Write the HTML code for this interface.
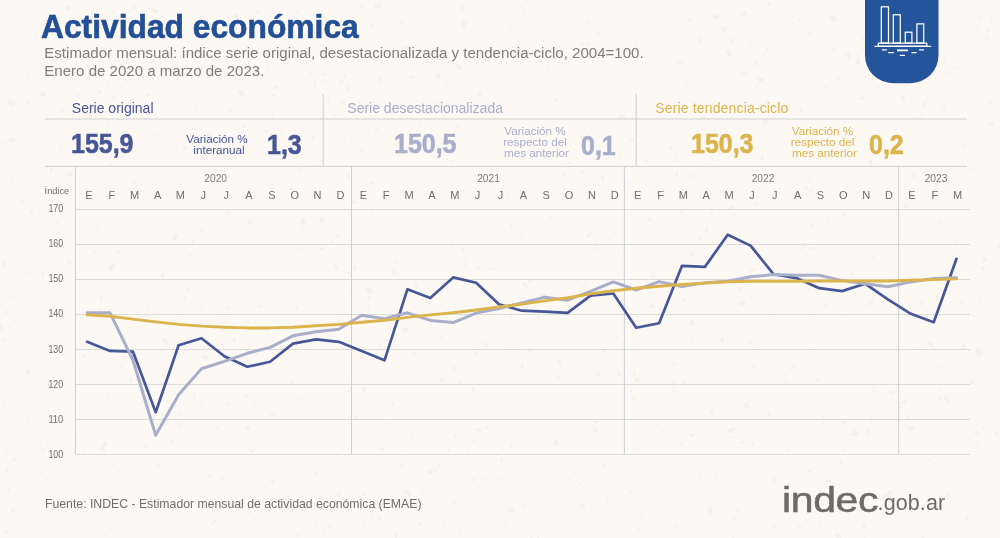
<!DOCTYPE html>
<html lang="es"><head><meta charset="utf-8"><title>Actividad económica</title>
<style>
html,body{margin:0;padding:0}
body{width:1000px;height:538px;overflow:hidden;background:#fcf9f4;font-family:"Liberation Sans",sans-serif;position:relative}
.abs{position:absolute;white-space:nowrap}
h1{position:absolute;left:41.2px;top:8.9px;margin:0;font-size:32.6px;line-height:36px;font-weight:bold;color:#234f97;white-space:nowrap;transform-origin:0 0;transform:scaleX(.975);-webkit-text-stroke:.6px #234f97}
.sub{left:44.3px;top:44.2px;font-size:15.05px;line-height:17.5px;color:#7e7e7b;transform-origin:0 0}
.lbl{font-size:14px;line-height:16px;transform-origin:0 50%}
.big{font-size:27px;line-height:28px;font-weight:bold;transform-origin:0 50%;transform:scaleX(.925);-webkit-text-stroke:.55px currentColor}
.var{width:80px;font-size:11.7px;line-height:11px;text-align:center;transform-origin:50% 50%}
.c1{color:#465696} .c2{color:#a9aeca} .c3{color:#dcb44c}
.src{left:45px;top:496.5px;font-size:12.25px;line-height:14px;color:#706f6c}
.logo{left:781.8px;top:479.9px;color:#6b6b68;line-height:40px;font-size:34.6px;letter-spacing:-.3px;-webkit-text-stroke:.5px #6b6b68;transform-origin:0 50%;transform:scaleX(1.185)}
.gob{left:877.6px;top:482.6px;color:#6b6b68;line-height:40px;font-size:21.5px;letter-spacing:.1px}
svg{position:absolute;left:0;top:0}
svg text{font-family:"Liberation Sans",sans-serif}
</style></head><body>
<svg width="1000" height="538" viewBox="0 0 1000 538">
 <filter id="bl" x="0" y="0" width="100%" height="100%"><feGaussianBlur stdDeviation=".55"/></filter><g fill="none" stroke="#8a7a5a" stroke-linecap="round" opacity=".052" filter="url(#bl)"><path stroke-width="1.6" d="M324 81l1.7 0.4M536 197l-0.0 0.3M37 233l0.3 0.1M425 445l0.4 0.3M627 510l0.5 1.4M976 25l1.3 1.7M144 63l-0.8 0.5M181 313l0.7 1.5M548 34l0.3 0.2M680 230l-0.2 0.9M453 161l-1.2 1.6M244 309l-1.3 0.5M729 155l2.3 0.9M418 407l0.0 0.5M39 360l-0.4 1.9M875 169l-0.5 1.7M580 245l-2.1 0.4M474 357l-0.2 0.3M647 534l1.3 1.6M386 360l0.0 0.3M168 63l-0.3 0.2M129 133l-1.0 0.4M81 242l-1.4 0.5M819 465l0.2 0.8M359 476l2.1 1.1M176 125l0.0 0.7M589 141l0.1 0.2M369 305l-1.3 2.0M515 332l1.7 0.3M900 420l-1.8 1.3M392 215l-0.2 0.4M62 36l0.6 0.3M340 28l0.2 0.1M101 196l-0.2 0.1M614 80l0.4 0.7M364 66l-2.2 0.0M466 260l0.4 0.1M343 142l1.8 1.0M23 512l1.3 0.6M543 15l-1.4 0.1M863 375l0.3 0.7M167 415l-1.1 0.9M330 120l-2.1 0.1M853 434l-1.4 1.5M227 278l1.0 0.1M28 150l-0.5 0.7M957 241l-2.4 0.1M955 196l0.5 0.5M197 110l-1.6 0.5M840 258l-1.4 1.0M85 355l-1.8 1.4M750 257l-0.5 0.4M333 431l0.8 2.3M401 509l1.6 1.0M127 81l-1.9 1.3M146 445l-1.2 2.2M350 295l0.5 0.0M971 350l-1.4 0.3M434 469l1.7 1.3M252 158l-0.2 0.7M259 225l-0.5 0.1M354 246l-1.5 0.5M421 494l-0.1 1.3M524 10l1.0 0.7M4 430l0.0 0.6M725 299l-0.1 0.9M555 422l-0.1 0.4M248 149l-0.0 2.0M562 409l0.4 2.3M613 272l-0.8 1.1M452 287l-1.3 0.2M699 472l1.6 1.7M560 507l1.9 0.9M122 238l0.3 0.3M73 360l-1.9 0.6M154 385l1.5 0.7M883 521l-0.7 0.1M398 262l-2.1 1.2M161 232l0.7 1.2M196 171l1.9 0.1M554 237l0.1 0.2M624 276l-0.3 0.0M788 523l0.3 0.3M40 419l0.8 0.3M422 490l1.4 1.5M149 495l-0.9 1.2M89 31l0.4 1.7M72 505l-1.3 1.0M84 461l-0.3 0.1M454 182l-1.4 0.3M268 70l1.0 1.0M109 87l0.3 0.2M312 164l1.2 1.5M500 96l1.0 0.1M250 8l-0.3 1.9M189 255l2.2 0.8M819 233l-1.2 0.7M393 273l-1.8 0.1M343 448l-0.8 1.7M405 187l0.3 0.1M71 399l0.7 0.4M84 453l-1.1 1.9M282 130l0.1 0.9M158 240l-0.8 0.1M973 294l-0.8 0.1M310 192l0.1 0.2M475 270l-0.0 0.7M5 142l0.1 0.4M42 12l0.7 0.6M586 285l-0.9 1.7M716 473l0.6 0.9M985 80l-0.8 1.7M44 449l-0.9 2.1M734 437l-0.0 0.5M504 449l-1.8 1.1M584 480l-1.0 1.5M230 17l0.2 0.5M105 450l-0.6 1.4M626 366l1.3 0.0M798 403l-0.1 1.3M659 36l1.3 1.3M74 143l1.5 1.1M740 525l0.5 1.2M479 368l-0.7 1.8M643 42l0.4 0.4M743 164l1.5 0.1M61 145l-1.0 1.4M676 156l0.2 1.4M466 64l1.8 1.3M978 504l0.0 0.2M820 521l0.8 0.9M210 509l-0.2 0.7M142 282l2.2 1.0M820 274l-1.3 1.8M231 483l1.3 0.1M4 265l0.7 1.0M141 185l-0.8 0.4M2 404l2.0 0.8M926 384l1.4 1.8M372 211l-0.7 2.4M361 230l0.8 0.1M102 449l-0.8 0.2M249 143l1.1 0.8M373 514l-1.9 1.2M631 491l-0.4 2.3M720 27l0.3 1.9M753 347l0.8 0.1M927 68l0.6 1.1M298 398l1.7 1.8M656 162l0.5 1.4M167 87l-0.6 0.2M497 118l-2.3 0.0M450 75l0.6 0.2M342 49l0.5 0.5M570 477l0.5 1.9M414 282l0.5 0.9M62 149l2.2 0.9M503 339l1.7 1.4M271 134l0.2 1.1M954 457l2.2 0.2M32 382l0.2 2.3M587 0l-1.1 0.3M826 460l1.7 1.7M109 83l-0.8 1.2M941 388l-1.2 1.1M457 297l-0.2 0.2M233 495l1.0 1.4M128 135l-1.0 1.4M112 38l-0.4 1.4M388 120l1.6 0.1M302 248l-1.1 2.2M884 256l0.5 0.5M961 379l0.9 0.1M498 363l0.8 0.8M667 498l0.7 0.1M338 226l1.4 1.0M797 398l1.1 0.8M970 168l1.6 1.4M221 409l-0.9 0.1M496 101l0.2 0.7M665 510l0.2 0.5M213 524l0.5 0.1M60 212l-2.1 0.8M733 537l1.2 2.0M186 504l1.9 0.2M664 204l0.5 0.9M169 2l0.4 0.8M956 67l1.9 1.5M357 442l0.4 2.0M49 255l-1.0 0.3M193 196l2.3 0.2M411 437l1.9 0.3M35 34l1.6 1.7M747 483l0.6 0.7M958 332l-0.5 0.6M316 148l-0.2 0.1M916 341l2.4 0.2M234 256l-2.4 0.3M387 135l0.0 1.2M928 98l-1.4 1.5M823 416l0.8 1.4M320 195l1.9 0.5M197 405l0.8 0.2M34 297l-0.9 0.1M883 531l0.8 0.2M96 268l0.3 1.8M234 224l-0.8 1.4M748 456l1.6 0.6M841 158l0.6 1.4M738 107l0.6 0.5M153 476l0.8 1.3M396 534l1.0 0.9M808 351l2.4 0.8M475 441l-2.1 0.6M40 158l0.4 0.3M973 314l0.9 2.2M866 242l-0.6 0.5M946 57l-0.6 1.5M218 198l0.4 0.3M255 322l1.4 1.0M11 176l1.5 1.0M312 109l-0.3 2.0M63 55l-0.2 1.1M639 49l-0.3 0.5M410 152l-0.9 0.1M312 305l0.3 1.0M864 536l0.8 0.6M728 110l-0.2 0.1M424 441l-1.1 0.4M461 87l-0.0 0.2M641 489l-0.2 0.4M371 271l0.3 0.4M521 498l0.0 0.5M805 520l0.6 0.3M943 525l1.3 0.2M926 209l-0.8 2.1M825 86l1.5 1.3M404 455l1.8 1.1M218 215l0.5 1.3M123 133l-1.8 0.6M41 303l1.9 0.2M838 63l-0.2 1.6M627 165l-0.3 1.1M426 354l0.2 1.2M23 333l1.0 0.9M764 420l1.1 0.7M473 58l0.1 0.5M92 238l1.4 0.2M636 44l-1.4 1.2M511 29l0.5 1.3M951 73l-2.2 0.0M732 438l-0.6 0.0M492 515l2.0 1.1M788 501l0.2 0.3M756 85l1.5 1.7M816 77l-1.3 0.3M208 141l0.7 1.1M37 98l-0.6 0.1M680 482l-0.5 0.4M115 286l0.7 1.5M873 299l-1.4 0.6M105 534l0.5 1.6M798 142l-0.6 2.4M360 411l1.0 0.6M744 26l1.5 1.5M639 529l-0.8 1.3M313 1l0.2 0.1M616 233l-1.3 0.4M132 122l1.7 0.1M3 191l0.2 0.4M224 314l1.2 0.9M624 255l-0.5 0.1M244 80l-0.2 0.4M871 421l0.8 0.8M11 347l0.7 1.3M646 239l-1.6 1.7M248 486l-0.0 0.3M406 128l-0.3 0.2M12 296l2.1 1.0M200 327l-0.6 1.2M813 94l0.5 0.7M48 478l-1.3 1.6M6 454l0.2 1.9M742 243l0.7 0.2M232 21l-0.7 0.7M695 455l1.2 1.4M554 235l-0.1 2.0M265 345l1.9 1.5M880 8l0.6 0.5M744 508l1.0 1.6M880 177l-0.7 0.2M631 373l-1.7 0.1M469 452l-1.6 0.8M437 390l0.9 1.2M212 335l-0.4 0.1M145 14l-0.4 0.1M345 76l0.3 0.0M693 341l-1.2 1.3M66 318l-0.9 0.6M820 480l-0.3 0.1M914 508l0.4 0.3M112 19l-1.8 1.2M634 444l1.0 1.3M100 53l1.6 1.2M319 228l0.2 0.2M283 385l0.6 0.9M964 271l-0.8 2.0M31 222l-0.9 0.8M347 379l1.1 0.9M862 49l1.8 1.1M1 109l-1.9 0.1M4 264l-1.1 0.8M185 266l-0.9 0.5M261 508l0.7 0.5M699 268l-0.2 0.4M81 424l-1.4 1.1M628 191l0.4 1.1M890 46l2.2 0.2M206 142l-0.0 2.3M379 476l0.1 0.7M532 406l-0.9 1.7M348 176l-0.5 0.3M662 399l0.1 0.6M773 312l0.1 0.5M885 128l0.4 0.5M703 454l0.5 0.3M248 176l1.2 0.7M328 102l-1.6 1.8M102 518l0.2 0.4M984 428l0.4 1.8M196 343l0.4 0.3M388 18l-0.9 0.7M693 269l0.2 1.6M142 325l-0.8 0.8M908 231l-1.1 1.1M421 123l-1.7 0.7M774 377l-1.2 1.8M642 244l-0.4 0.8M98 226l-1.2 1.6M630 135l0.2 1.2M622 220l-1.7 0.4M183 352l0.7 1.9M490 524l-0.0 0.3M161 421l-0.1 2.4M101 309l-0.9 1.1M512 344l-0.1 2.1M410 510l-0.4 0.6M392 410l-0.5 0.0M355 30l0.3 0.8M13 225l-0.7 0.9M352 143l-0.5 0.5M940 284l-0.6 0.4M392 114l-0.4 0.3M810 341l-0.2 1.3M226 519l-0.4 0.9M819 439l0.8 1.0M548 67l0.9 1.9M851 144l0.7 0.8M426 100l-0.1 0.2M281 132l0.1 0.9M428 343l0.7 1.6M929 460l-0.3 0.2M906 422l-0.5 0.3M633 8l-0.2 0.0M656 135l0.4 0.2M234 418l0.9 0.5M904 426l-0.6 0.2M608 420l-1.6 0.6M788 451l-0.4 0.5M531 399l-1.1 0.4M555 142l0.7 0.3M493 31l1.1 0.6M491 268l-1.3 0.6M7 452l-0.2 1.3M665 452l0.3 1.0M961 41l-0.7 1.5M29 328l-1.7 0.4M330 528l0.1 1.4M898 18l-0.7 1.7M339 464l0.1 1.0M526 415l0.1 0.7M422 298l1.3 1.7M828 217l0.9 1.0M506 525l-1.4 1.0M331 171l-0.2 0.9M635 422l-0.2 0.2M886 293l0.2 0.3M6 102l-0.8 2.2M658 424l-0.8 2.2M617 337l-0.5 1.7M681 114l0.2 1.7M763 55l0.6 0.1M775 492l0.7 1.6M823 423l1.0 1.1M302 227l0.2 0.9M642 502l-0.1 0.3M39 64l-0.5 2.0M919 240l0.1 0.2M592 504l0.2 2.4M412 55l1.3 1.0M152 8l-0.1 0.2M122 520l-0.4 0.2M129 10l1.3 1.3M734 101l-0.2 0.2M714 460l1.8 0.5M629 382l-1.2 0.3M254 519l1.8 0.1M15 350l2.0 0.5M311 392l-0.5 0.2M486 32l-0.2 1.0M439 364l-0.4 0.3M363 347l0.4 1.6M386 423l-1.9 1.5M567 157l-0.3 0.0M703 445l-0.3 0.9M977 447l0.9 1.3M429 478l-0.6 0.9M602 482l1.3 1.6M2 142l-0.3 1.1M816 477l-0.3 0.1M812 467l1.0 1.1M851 434l-1.7 0.5M347 46l-1.2 0.9M200 404l1.7 1.6M607 365l1.0 0.8M255 404l0.3 2.0M88 434l1.5 1.3M580 483l-0.2 2.2M477 317l0.5 0.4M181 377l-0.2 1.0M402 278l0.5 0.1M997 201l-0.2 0.4M787 84l0.7 1.4M519 11l-0.3 0.0M866 262l1.0 1.1M779 229l-1.8 1.6M819 518l0.8 0.1M201 97l0.4 0.1M557 468l-1.2 0.2M910 35l0.5 1.5M120 516l-0.2 0.8M641 515l0.6 1.6M448 86l-2.4 0.1M222 21l0.4 0.7M903 487l2.1 0.3M786 382l-1.7 0.1M56 78l-1.9 0.4M677 161l-1.1 1.1M105 174l0.7 0.3M481 91l0.7 0.3M678 7l1.5 1.1M36 499l-0.7 0.1M867 478l0.1 0.5M97 500l-0.8 2.0M452 183l0.1 2.1M628 77l0.7 0.1M714 298l-0.5 0.2M266 222l0.4 0.4M840 180l0.0 0.6M318 486l-0.5 0.0M57 482l1.4 1.1M477 154l0.6 0.5M364 533l-2.4 0.6M98 156l2.2 0.4M726 158l2.4 0.1M807 183l0.5 0.0M832 283l0.1 0.6M912 117l1.4 0.6M180 414l1.5 1.1M79 47l0.0 1.6M274 111l-1.0 1.3M812 314l0.7 0.1M733 220l1.8 0.3M811 180l-1.9 0.9M493 8l0.2 2.3M872 143l-0.5 0.3M367 88l-0.3 1.0M5 280l-0.1 1.2M121 384l-1.9 0.9M321 383l-0.8 0.8M61 470l0.0 2.4M513 285l1.4 0.1M967 120l0.6 0.2M250 440l0.3 0.1M699 105l-0.1 0.2M576 281l1.7 0.6M870 386l0.3 0.1M494 269l0.8 0.3M406 74l-1.4 0.7M147 308l1.7 0.9M826 504l0.3 1.1M840 283l-1.1 0.2M777 182l0.4 0.7M436 528l-2.0 0.6M815 456l-0.0 0.3M958 503l0.2 0.8M633 196l1.4 0.3M433 272l0.2 0.1M970 418l-1.0 2.2M809 476l2.2 0.2M642 143l1.1 1.3M542 497l1.1 1.2M520 233l1.5 1.9M305 348l-0.1 0.5M956 276l0.1 0.8M534 80l0.4 0.2M294 219l0.6 0.6M88 294l-0.7 2.0M570 350l-0.4 0.5M461 295l0.2 1.6M311 130l-0.0 0.7M383 315l0.1 0.2M862 128l0.0 1.5M285 531l-0.7 0.6M159 36l0.4 2.2M62 209l-0.8 0.9M109 121l-1.6 1.8M155 181l-0.5 0.9M616 457l-0.1 2.1M739 400l0.2 1.9M785 381l2.1 0.9M871 2l-0.5 1.9M498 518l0.4 1.5M784 470l0.6 1.5M452 246l1.1 1.5M391 299l0.6 0.9M787 457l0.2 1.3M184 164l-0.1 0.5M582 47l1.2 2.0M843 451l1.9 1.4M426 490l0.2 0.0M565 268l-1.8 1.5M538 537l-0.1 1.4M685 210l-0.3 1.0M351 510l-0.1 1.8M99 201l-0.2 1.1M574 473l0.1 2.4M440 336l1.2 2.2M530 439l0.3 0.5M978 444l1.3 0.5M895 371l-2.1 0.1M888 226l0.3 0.4M512 272l0.5 0.3M630 324l-1.0 0.0M637 23l-0.9 0.7M307 372l0.1 0.2M842 315l1.4 1.0M498 298l-0.4 0.7M531 536l0.4 1.5M122 84l1.8 0.6M100 92l-1.2 0.7M613 434l0.3 0.0M771 174l0.8 1.7M169 143l-0.4 0.1M582 188l0.4 1.2M55 479l-1.5 0.2M440 334l0.8 0.1M931 460l-0.9 0.3M816 163l-1.6 0.2M496 511l0.3 0.7M718 119l-0.8 0.3M484 427l0.6 0.4M358 100l1.5 1.9M562 62l0.5 1.3M403 35l-0.4 0.3M351 132l0.4 0.5M237 19l0.8 1.5M156 380l0.3 0.3M835 69l-1.1 0.6M805 86l-0.7 0.8M377 516l-0.7 0.1M505 122l1.1 0.5M706 140l-0.6 2.2M368 132l1.3 1.0M872 66l-0.2 1.4M270 415l-0.5 1.0M568 167l1.1 0.3M177 458l-0.5 0.8M109 302l-0.0 1.0M297 35l0.7 0.6M126 386l0.3 0.8M909 417l-2.0 0.9M132 149l-0.1 0.2M664 189l-0.6 1.0M699 134l1.0 1.9M629 98l-0.4 0.1M734 383l0.3 0.0M162 107l0.3 0.8M39 167l1.4 0.9M839 307l1.3 1.3M435 368l1.0 0.0M834 418l0.9 0.1M854 327l0.2 0.2M111 426l-0.7 0.2M750 46l0.6 1.7M748 446l0.8 0.2M946 228l-1.3 1.9M739 447l0.2 1.6M54 376l-0.0 1.2M928 69l1.9 0.3M703 433l-0.1 0.8M969 343l1.0 1.0M59 193l0.9 0.7M311 73l-0.9 1.6M238 130l0.2 1.4M936 189l-0.8 0.3M142 303l-0.8 0.5M548 409l-0.3 0.5M599 248l-1.7 1.0M114 156l0.8 0.6M60 151l-0.4 0.5M448 61l0.1 0.9M363 90l0.4 0.0M992 404l-0.2 0.3M980 303l0.0 0.4M434 102l1.4 0.0M920 347l-1.6 0.3M653 135l0.7 0.3M28 417l1.3 1.7M186 343l-2.1 0.5"/><path stroke-width="2.6" d="M168 422l-2.0 2.1M327 99l1.6 2.5M369 297l-1.2 0.7M239 22l-0.8 1.9M820 380l-3.1 0.5M494 269l0.4 0.6M581 43l2.2 1.2M443 522l0.5 0.1M440 103l2.6 0.0M841 460l0.6 2.7M283 356l0.5 1.8M339 236l-2.0 1.2M904 88l0.2 1.2M563 187l0.8 0.2M324 248l-3.3 1.0M865 524l-1.2 3.1M811 32l-0.8 2.3M297 307l0.2 3.3M647 161l-1.2 0.5M28 102l0.4 2.4M85 355l-0.4 1.4M416 285l0.7 2.0M114 97l-0.5 3.1M112 464l1.0 0.3M531 135l-0.3 1.8M227 308l-0.0 0.6M588 43l1.5 0.4M440 465l-1.3 1.6M757 62l-2.2 2.7M102 447l1.3 0.8M960 303l2.5 1.1M776 31l0.4 0.9M15 320l0.5 0.7M707 229l-1.2 2.9M872 303l-3.0 1.3M168 401l-1.0 0.9M681 444l0.2 0.6M737 510l2.6 0.4M604 54l-1.6 1.2M113 498l1.7 1.7M193 240l-0.7 2.9M114 11l-0.5 0.3M185 298l-0.6 1.0M381 78l-0.4 3.1M690 435l3.3 0.1M342 81l-1.7 0.7M800 19l-0.7 0.4M680 211l1.6 0.8M845 212l-1.1 2.9M76 177l-0.9 0.3M589 23l0.3 0.7M468 310l0.7 1.3M6 312l1.3 0.1M459 531l0.3 0.2M671 147l-0.0 1.1M262 306l-1.9 0.3M992 18l-1.5 1.4M872 417l-0.9 2.1M363 151l-2.6 1.1M939 367l-0.9 0.8M740 274l1.0 2.0M551 218l0.2 0.3M323 532l0.7 1.6M243 126l1.2 0.6M7 469l0.3 1.7M569 163l0.7 0.2M301 166l-0.4 2.6M937 183l-0.8 3.1M80 96l-2.1 0.1M357 417l-1.5 0.6M68 261l2.1 2.4M258 12l0.5 0.6M704 117l1.2 0.9M603 465l1.9 1.4M734 518l2.1 0.5M809 471l1.2 0.6M188 289l-1.3 2.8M923 114l-0.9 0.9M649 218l1.2 2.1M57 223l-0.1 0.3M335 266l1.5 1.6M463 7l-0.7 3.2M988 30l-1.4 1.7M329 50l0.6 0.3M767 48l0.7 2.8M539 317l-1.0 1.8M602 178l1.8 1.9M711 411l1.6 2.3M773 526l1.1 1.3M523 506l0.6 0.0M476 353l1.2 2.5M990 123l2.6 0.8M28 72l-0.0 0.4M555 98l1.4 3.0M149 95l-2.6 0.6M162 16l2.0 1.9M982 268l1.1 2.0M801 248l-1.2 0.4M108 395l-0.2 0.4M402 465l-0.1 0.4M410 494l-1.3 3.1M224 136l0.2 1.0M231 109l-1.2 2.4M298 535l-0.2 0.9M157 464l2.0 2.3M752 443l0.6 1.0M486 479l-0.4 0.6M598 244l-2.0 0.8M210 475l-1.1 0.9M863 98l-3.1 0.0M298 13l-0.6 0.0M9 490l-0.5 0.5M98 91l2.4 0.7M340 494l-2.4 0.9M980 18l-0.8 0.6M689 20l1.4 1.2M430 56l-0.3 0.0M316 473l0.0 0.6M136 231l-0.4 0.7M148 397l1.7 0.6M354 267l1.5 2.9M215 521l-2.1 2.3M273 95l1.0 0.2M43 274l-0.3 1.5M363 6l-1.1 2.2M544 295l-2.5 0.1M874 386l0.8 1.3M419 523l0.5 1.4M410 77l3.5 0.1M608 498l-0.4 1.0M377 130l0.8 0.3M843 422l3.2 0.5M694 175l-0.4 2.3M316 523l-0.1 0.1M853 274l-2.2 0.0M234 339l1.0 2.5M712 212l-0.7 1.8M677 173l-0.3 2.3M223 330l-1.0 0.3M473 388l0.1 1.9M221 76l-0.3 3.2M524 284l2.1 2.0M172 442l-0.7 1.6M827 481l3.0 0.4M381 448l2.7 1.1M154 135l0.2 0.5M803 280l1.6 0.5M396 536l0.4 2.5M478 429l2.4 1.2M680 197l1.4 1.3M371 183l1.5 0.1M201 307l0.3 0.2M718 148l0.9 0.9M834 49l-2.1 1.0M202 228l-1.0 2.6M372 24l0.7 1.5M713 159l-0.7 1.4M811 190l-0.4 1.4M925 103l-2.1 2.7M372 358l1.3 0.3M756 204l0.0 1.9M901 407l-0.1 0.3M463 249l0.8 2.9M474 479l0.0 1.7M512 444l-1.7 1.8M402 22l-0.4 2.4M769 414l0.5 0.4M77 440l0.5 0.1M753 304l-0.2 0.3M711 260l-0.2 0.3M418 314l-2.9 1.9M872 78l-0.1 1.3M6 532l0.8 0.8M313 137l-0.5 3.0M511 226l0.2 0.3M867 431l2.1 2.2M202 28l0.8 1.8M464 263l0.9 1.9M801 108l-0.6 3.2M51 169l0.6 1.9M565 174l-0.9 0.7M292 382l-0.8 2.7M455 503l-1.5 0.6M58 233l2.3 0.4M863 39l1.8 1.2M922 302l0.0 2.8M674 363l0.9 0.7M838 78l2.6 2.0M101 51l-2.8 0.4M415 354l-1.0 0.3M686 83l-0.2 0.3M42 450l0.9 0.8M582 171l1.8 1.0M912 175l2.6 1.4M799 527l1.5 0.2M380 345l-0.1 0.9M94 250l0.6 2.5M679 62l2.7 1.1M923 536l-0.3 3.3M291 187l0.0 2.7M930 50l-1.6 0.7M598 291l0.4 0.2M271 480l2.3 2.0M925 17l-2.2 0.2M344 508l2.3 0.4M333 242l-0.7 0.7M179 424l1.2 0.3M559 51l-1.6 1.2M596 248l-0.0 0.3M97 348l-0.2 0.6M353 202l2.1 1.2M170 507l-1.1 0.6M873 258l0.7 0.2M879 63l-0.2 1.8M118 252l-0.1 0.7M507 197l0.3 0.8M203 68l-0.9 0.4M502 479l-0.2 0.0M488 426l-1.2 1.7M229 404l0.5 0.5M31 212l1.2 1.5M891 45l1.6 1.4M595 422l2.5 0.5M246 322l3.4 0.4M618 372l1.4 2.5M811 248l3.2 0.1M940 222l1.5 0.4M245 395l2.2 1.1M344 76l0.7 0.5M331 525l-2.8 2.1M480 268l-2.7 0.8M751 342l-0.3 0.8M846 423l-0.3 0.4M349 87l-1.7 2.9M746 73l-2.9 0.6M905 401l-2.4 1.7M590 234l-2.3 1.8M871 161l-0.3 3.4M946 62l-2.7 2.1M252 451l0.8 0.6M458 127l-1.8 0.5M685 382l-1.2 0.9M794 367l-2.8 1.7M406 47l-2.0 1.2M340 320l-2.4 1.8M4 263l0.2 0.1M812 225l0.3 2.2M335 115l-1.2 0.6M619 157l0.3 0.4M701 238l-2.0 1.4M121 367l-0.3 0.2M184 146l1.4 3.1M224 479l-2.1 0.7M394 269l-0.1 3.4M989 102l2.6 1.4M527 0l-0.8 0.1M455 435l0.5 0.9M101 297l-0.1 3.0M377 500l-1.6 2.7M76 336l-1.7 0.2M362 356l0.9 2.1M522 364l0.0 3.2M364 525l-0.3 0.2M684 300l-1.2 1.2M891 392l2.7 0.3M325 74l-3.2 1.1M145 316l2.1 0.3M392 402l1.5 1.8M762 157l0.5 1.9M978 349l-1.5 2.4M380 518l-1.4 2.1M277 87l-1.8 1.1M794 187l-0.0 0.7M877 87l2.3 1.3M312 29l0.4 1.1M967 518l0.5 0.7M944 106l0.2 1.2M108 140l0.5 1.4M964 144l-0.8 0.2M450 450l-1.8 1.5M315 82l0.3 2.7M559 361l1.7 2.0M363 494l1.2 1.5M630 140l2.7 0.4M827 305l-1.3 0.3M266 131l-0.1 0.4M754 365l-1.3 0.9M111 165l-2.3 0.2M634 372l0.9 2.6M940 399l0.4 1.3M806 188l-0.7 0.3M532 280l-2.3 0.7M134 182l0.1 0.4M502 458l-0.6 2.3M404 309l-1.0 0.5M788 451l-0.4 0.6M754 269l-3.0 1.0M743 442l-2.2 0.9M131 379l-0.9 2.4M275 36l-1.9 1.1M273 115l0.9 0.3M676 524l1.2 2.6M699 39l1.5 2.5M3 339l0.4 0.5M59 240l-1.7 1.2M40 445l0.4 0.4M629 183l-0.3 1.3M218 427l-0.8 0.4M809 289l-0.2 0.2M28 272l1.6 0.3M630 390l0.7 2.0M512 317l-0.9 0.4M996 433l1.7 2.9M986 38l1.6 0.7M454 367l0.4 2.5M342 102l1.0 1.2M194 396l0.4 1.9M198 379l0.6 0.6M560 377l-2.4 2.4M948 495l-1.6 2.0"/><path stroke-width="4.2" d="M63 111l-0.2 0.1M722 339l0.5 1.1M164 340l2.3 3.3M44 94l-1.5 0.5M804 245l0.6 0.2M154 418l-2.0 0.1M912 428l-1.7 1.1M128 59l-0.1 2.3M209 136l-0.3 0.1M710 509l0.8 3.8M732 207l-2.9 1.6M134 7l-0.3 1.0M379 5l-2.6 2.1M464 23l-0.4 3.6M71 174l-2.4 0.9M485 344l0.7 0.7M906 206l-0.2 0.6M126 108l-0.5 1.9M636 380l1.8 0.4M724 29l0.6 1.9M673 384l-0.5 1.0M692 254l-0.7 0.2M599 34l-1.1 0.0M229 211l-2.7 1.7M634 399l0.3 0.1M976 432l0.3 0.1M240 501l-0.5 0.9M930 344l2.5 2.7M153 10l2.9 1.0M973 382l-0.7 0.5M163 276l-0.5 0.4M890 493l-0.2 0.1M556 442l-0.8 2.0M595 430l0.5 0.1M545 157l1.7 0.0M745 13l-2.8 1.9M458 66l2.1 1.6M429 59l-0.6 3.9M353 51l-2.6 1.4M848 55l0.9 1.3M762 80l-2.5 0.2M769 4l0.5 0.2M692 322l0.3 2.2M407 329l-2.6 0.7M733 429l-3.2 1.8M717 16l-2.5 1.3M431 472l-0.9 0.2M442 380l0.7 0.9M348 175l0.1 0.6M981 352l-2.7 2.5M837 535l2.0 2.3M250 222l0.2 0.2M886 495l-1.1 1.0M775 479l-0.3 3.2M105 444l-0.5 1.3M367 289l3.4 1.9M531 350l-2.2 0.4M408 492l-2.8 0.3M90 114l-1.2 0.4M14 140l-2.9 0.1M176 236l-1.6 2.3M746 405l0.8 0.8M28 372l0.7 0.7M964 346l-1.2 2.2M598 374l1.3 0.3M67 8l1.4 0.7M113 266l-2.2 3.2M273 414l0.8 0.3M303 220l0.5 2.8M728 51l1.8 3.3M832 17l2.5 2.2M855 432l1.8 2.1M10 102l3.2 1.7M659 316l2.3 1.5M144 52l1.4 3.7M652 306l1.0 0.2M15 459l-0.7 0.1M364 389l-0.6 0.4M252 197l2.1 0.8M248 428l0.5 1.2M765 121l0.7 0.6M384 197l0.2 2.6M870 27l-2.4 1.3M235 16l1.7 0.7M460 383l0.5 0.2M480 94l0.2 1.1M118 37l0.2 1.6M937 298l0.4 0.3M744 303l-3.5 0.4M858 59l-0.3 3.8M240 92l2.7 2.2M83 143l0.5 3.7M731 40l1.0 1.6M205 357l1.5 0.6M984 259l0.9 0.0M653 277l0.0 0.3M740 289l0.0 1.1M605 350l-0.6 0.4M946 398l1.4 3.2M903 98l-0.3 1.0M902 44l1.0 0.1M439 76l-0.7 0.7M583 505l-0.9 1.5M13 510l0.1 1.1M512 510l-2.1 0.1M621 116l2.7 2.0M1000 246l-1.1 0.1M322 219l-0.8 1.3M23 201l-0.7 0.4M0 327l0.2 1.2"/></g>
 <path d="M865 0H938.5V55.2a28 28 0 0 1 -28 28H893a28 28 0 0 1 -28 -28Z" fill="#24549a"/>
 <g fill="none" stroke="#fff" stroke-width="1.25">
  <rect x="881.3" y="6.8" width="7.2" height="36.2"/>
  <rect x="893.3" y="14.8" width="7" height="28.2"/>
  <rect x="905.3" y="32.2" width="6.6" height="10.8"/>
  <rect x="916.9" y="23.9" width="6.8" height="19.1"/>
  <rect x="878.3" y="43.2" width="48.5" height="3"/>
  <path d="M874.4 46.3H931.2"/>
  <path d="M881.8 49.9H886.8M919 49.9H924M888.3 52.7H893.9M911.5 52.7H916.5M899.8 55.3H905"/>
  <path d="M897 50.4H908" stroke-width="1.8"/>
 </g>
 <g stroke="#cfcfcb" stroke-width="1" fill="none">
  <path d="M45 119H967M45 166.4H967M323.2 94V166.4M636.2 94V166.4"/>
 </g>
 <g stroke="#dcdedc" stroke-width="1"><line x1="75.5" x2="970" y1="454.5" y2="454.5"/><line x1="75.5" x2="970" y1="419.5" y2="419.5"/><line x1="75.5" x2="970" y1="384.5" y2="384.5"/><line x1="75.5" x2="970" y1="349.5" y2="349.5"/><line x1="75.5" x2="970" y1="314.5" y2="314.5"/><line x1="75.5" x2="970" y1="279.5" y2="279.5"/><line x1="75.5" x2="970" y1="244.5" y2="244.5"/><line x1="75.5" x2="970" y1="209.5" y2="209.5"/></g>
 <g stroke="#c8d1d3" stroke-width="1">
  <path d="M75.4 166.4V454.5M351.5 166.4V454.5M624.4 166.4V454.5M898.7 166.4V454.5"/>
 </g>
 <g font-size="11" fill="#6f6f6c" text-anchor="middle"><text x="89.0" y="199.2">E</text><text x="111.9" y="199.2">F</text><text x="134.7" y="199.2">M</text><text x="157.6" y="199.2">A</text><text x="180.4" y="199.2">M</text><text x="203.3" y="199.2">J</text><text x="226.2" y="199.2">J</text><text x="249.0" y="199.2">A</text><text x="271.9" y="199.2">S</text><text x="294.7" y="199.2">O</text><text x="317.6" y="199.2">N</text><text x="340.5" y="199.2">D</text><text x="363.3" y="199.2">E</text><text x="386.2" y="199.2">F</text><text x="409.0" y="199.2">M</text><text x="431.9" y="199.2">A</text><text x="454.8" y="199.2">M</text><text x="477.6" y="199.2">J</text><text x="500.5" y="199.2">J</text><text x="523.3" y="199.2">A</text><text x="546.2" y="199.2">S</text><text x="569.1" y="199.2">O</text><text x="591.9" y="199.2">N</text><text x="614.8" y="199.2">D</text><text x="637.6" y="199.2">E</text><text x="660.5" y="199.2">F</text><text x="683.4" y="199.2">M</text><text x="706.2" y="199.2">A</text><text x="729.1" y="199.2">M</text><text x="751.9" y="199.2">J</text><text x="774.8" y="199.2">J</text><text x="797.7" y="199.2">A</text><text x="820.5" y="199.2">S</text><text x="843.4" y="199.2">O</text><text x="866.2" y="199.2">N</text><text x="889.1" y="199.2">D</text><text x="912.0" y="199.2">E</text><text x="934.8" y="199.2">F</text><text x="957.7" y="199.2">M</text></g>
 <g font-size="10.2" fill="#7b7b78" text-anchor="middle">
  <text x="215.7" y="181.6">2020</text><text x="488.5" y="181.6">2021</text><text x="763" y="181.6">2022</text><text x="936" y="181.6">2023</text>
 </g>
 <g font-size="10" fill="#6f6f6c"><text x="48.4" y="457.9" textLength="14.7" lengthAdjust="spacingAndGlyphs">100</text><text x="48.4" y="422.8" textLength="14.7" lengthAdjust="spacingAndGlyphs">110</text><text x="48.4" y="387.6" textLength="14.7" lengthAdjust="spacingAndGlyphs">120</text><text x="48.4" y="352.5" textLength="14.7" lengthAdjust="spacingAndGlyphs">130</text><text x="48.4" y="317.4" textLength="14.7" lengthAdjust="spacingAndGlyphs">140</text><text x="48.4" y="282.3" textLength="14.7" lengthAdjust="spacingAndGlyphs">150</text><text x="48.4" y="247.1" textLength="14.7" lengthAdjust="spacingAndGlyphs">160</text><text x="48.4" y="212.0" textLength="14.7" lengthAdjust="spacingAndGlyphs">170</text></g>
 <text x="44.6" y="194.3" font-size="9.2" fill="#6f6f6c">Índice</text>
 <g fill="none" stroke-linejoin="round" stroke-linecap="round">
  <polyline points="87.1,341.8 110.0,350.9 132.9,351.6 155.7,412.2 178.6,345.3 201.5,338.3 224.4,356.2 247.3,366.7 270.1,361.8 293.0,343.6 315.9,339.3 338.8,341.8 361.7,350.9 384.5,360.3 407.4,289.3 430.3,298.1 453.2,277.4 476.1,282.7 498.9,304.3 521.8,310.7 544.7,311.7 567.6,312.8 590.5,295.6 613.3,293.5 636.2,327.8 659.1,323.2 682.0,265.8 704.9,266.9 727.7,234.7 750.6,245.6 773.5,274.2 796.4,278.1 819.3,288.2 842.1,291.1 865.0,283.7 887.9,299.4 910.8,313.8 933.7,322.2 956.5,258.8" stroke="#475797" stroke-width="2.7"/>
  <polyline points="87.1,312.8 110.0,312.8 132.9,360.0 155.7,435.2 178.6,394.7 201.5,368.8 224.4,361.4 247.3,353.3 270.1,347.4 293.0,335.8 315.9,331.7 338.8,329.2 361.7,315.2 384.5,318.7 407.4,312.8 430.3,320.4 453.2,322.6 476.1,313.1 498.9,308.6 521.8,302.9 544.7,297.3 567.6,300.2 590.5,291.4 613.3,281.9 636.2,290.0 659.1,281.6 682.0,286.5 704.9,282.7 727.7,281.2 750.6,276.7 773.5,274.6 796.4,275.3 819.3,275.3 842.1,280.6 865.0,283.7 887.9,286.8 910.8,281.9 933.7,278.4 956.5,277.8" stroke="#a9aeca" stroke-width="3"/>
  <polyline points="87.1,314.9 110.0,316.3 132.9,319.1 155.7,321.9 178.6,324.4 201.5,326.1 224.4,327.2 247.3,327.9 270.1,327.9 293.0,327.2 315.9,325.8 338.8,324.4 361.7,322.3 384.5,320.2 407.4,317.4 430.3,314.9 453.2,312.8 476.1,310.0 498.9,306.9 521.8,304.1 544.7,300.9 567.6,297.8 590.5,293.9 613.3,290.8 636.2,288.3 659.1,286.2 682.0,284.5 704.9,283.1 727.7,281.7 750.6,281.3 773.5,281.3 796.4,281.3 819.3,281.0 842.1,281.0 865.0,281.0 887.9,281.0 910.8,280.3 933.7,279.6 956.5,278.9" stroke="#dcb44c" stroke-width="2.95"/>
 </g>
</svg>
<h1>Actividad económica</h1>
<div class="abs sub">Estimador mensual: índice serie original, desestacionalizada y tendencia-ciclo, 2004=100.<br>Enero de 2020 a marzo de 2023.</div>

<div class="abs lbl c1" style="left:71.8px;top:100.2px">Serie original</div>
<div class="abs lbl c2" style="left:347.3px;top:100.2px">Serie desestacionalizada</div>
<div class="abs lbl c3" style="left:655.3px;top:100.2px;letter-spacing:.15px">Serie tendencia-ciclo</div>

<div class="abs big c1" style="left:71.3px;top:129.5px">155,9</div>
<div class="abs var c1" style="left:177px;top:133.2px">Variación %<br><span style="padding-left:4px">interanual</span></div>
<div class="abs big c1" style="left:266.5px;top:131.2px">1,3</div>

<div class="abs big c2" style="left:394.2px;top:129.5px">150,5</div>
<div class="abs var c2" style="left:495px;top:125.2px">Variación %<br>respecto del<br><span style="padding-left:3px">mes anterior</span></div>
<div class="abs big c2" style="left:581.1px;top:131.5px">0,1</div>

<div class="abs big c3" style="left:690.8px;top:129.5px">150,3</div>
<div class="abs var c3" style="left:782.5px;top:125.2px">Variación %<br>respecto del<br><span style="padding-left:4px">mes anterior</span></div>
<div class="abs big c3" style="left:868.5px;top:131.2px">0,2</div>

<div class="abs src">Fuente: INDEC - Estimador mensual de actividad económica (EMAE)</div>
<div class="abs logo">indec</div><div class="abs gob">.gob.ar</div>
</body></html>
